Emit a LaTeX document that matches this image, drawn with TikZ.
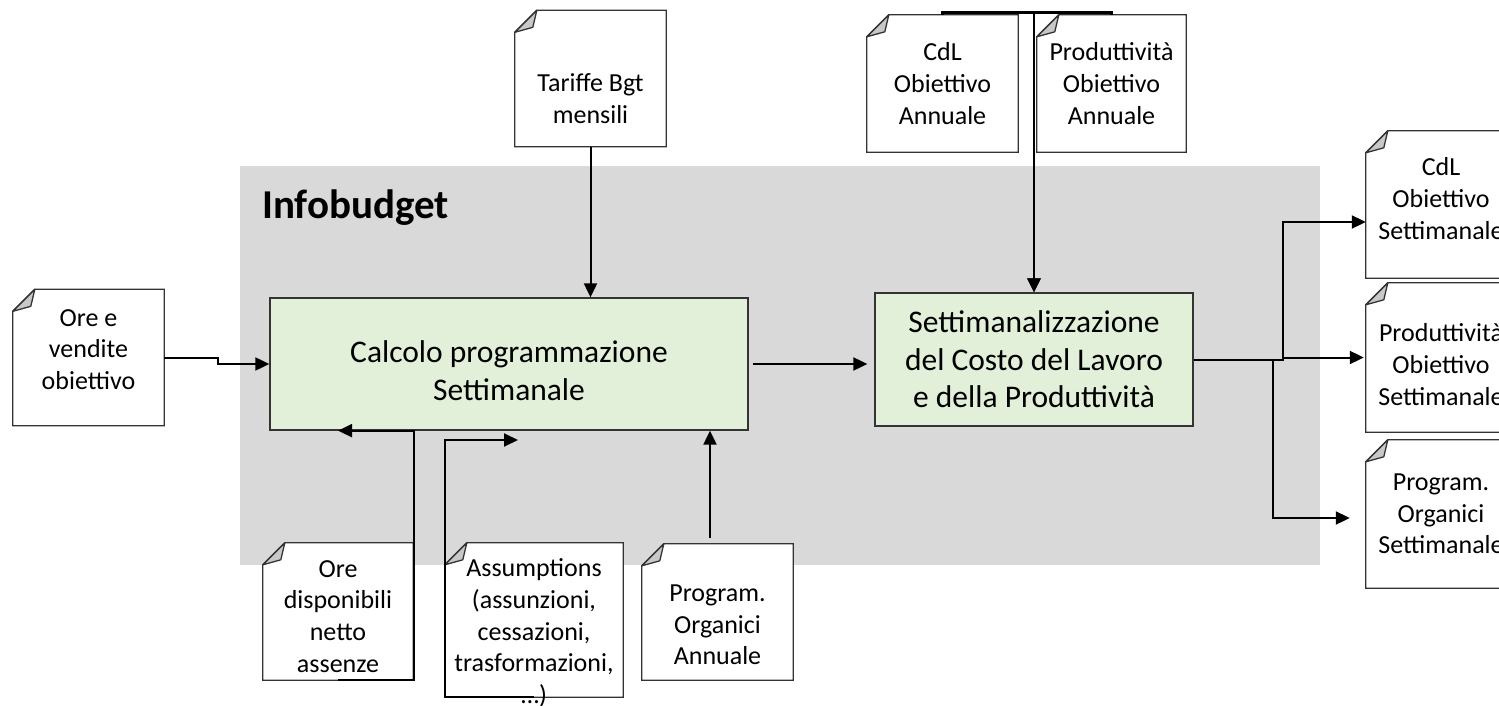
\documentclass[tikz,border=0pt]{standalone}
\usepackage{fontspec}
\setmainfont{Carlito}
\usepackage{tikz}
\usetikzlibrary{arrows.meta,backgrounds}

\newcommand\docfont{\fontsize{26}{31.7}\selectfont}
\newcommand\boxfont{\fontsize{31.5}{37.5}\selectfont}
\newcommand\titlefont{\fontsize{41}{49}\selectfont\bfseries}

\definecolor{infogray}{HTML}{D9D9D9}
\definecolor{procgreen}{HTML}{E2EFD9}
\definecolor{foldgray}{HTML}{C8C8C8}
\definecolor{edgegray}{HTML}{333333}

\tikzset{
	docnode/.style={minimum width=151, minimum height=136, inner sep=0},
	doctext/.style={align=center, font=\docfont, inner sep=0},
	docedge/.style={draw=edgegray, line width=1.3},
	procbox/.style={draw=edgegray, line width=1.3, fill=procgreen, align=center, font=\boxfont, inner sep=0},
	conn/.style={line width=2, -{Triangle[length=14pt,width=13pt]}},
}

\begin{document}
\begin{tikzpicture}[x=1pt, y=-1pt]

\useasboundingbox (0, 0) rectangle (1499, 706);

% Ore e vendite obiettivo
\node [docnode,
	label={[doctext, yshift=8]center:{Ore e\\vendite\\obiettivo}}
] (ore_vendite) at (88.5, 357.5) {};

% Tariffe Bgt mensili
\node [docnode,
	label={[doctext, yshift=-20]center:{Tariffe Bgt\\mensili}}
] (tariffe) at (590.5, 78.5) {};

% CdL obiettivo annuale
\node [docnode,
	minimum height=137,
	label={[doctext]center:{CdL\\Obiettivo\\Annuale}}
] (cdl_annuale) at (942.5, 83.5) {};

% Produttivita obiettivo annuale
\node [docnode,
	minimum width=149,
	minimum height=137,
	label={[doctext]center:{Produttività\\Obiettivo\\Annuale}}
] (prod_annuale) at (1111.5, 83.5) {};

% Ore disponibili
\node [docnode,
	minimum width=150,
	minimum height=137,
	label={[doctext, yshift=-5]center:{Ore\\disponibili\\netto\\assenze}}
] (ore_disp) at (338, 611.5) {};

% Assumptions
\node [docnode,
	minimum width=178,
	minimum height=154,
	label={[doctext, yshift=-13]center:{Assumptions\\(assunzioni,\\cessazioni,\\trasformazioni,\\…)}}
] (assumptions) at (534, 620) {};

% Program. organici annuale
\node [docnode,
	label={[doctext, yshift=-13]center:{Program.\\Organici\\Annuale}}
] (prog_annuale) at (717.5, 612) {};

% CdL obiettivo settimanale
\node [docnode,
	minimum width=150,
	minimum height=147,
	label={[doctext, yshift=6]center:{CdL\\Obiettivo\\Settimanale}}
] (cdl_sett) at (1441, 204.5) {};

% Produttivita obiettivo settimanale
\node [docnode,
	minimum width=150,
	minimum height=149,
	label={[doctext, yshift=-7]center:{Produttività\\Obiettivo\\Settimanale}}
] (prod_sett) at (1441, 357.5) {};

% Program. organici settimanale
\node [docnode,
	minimum width=150,
	minimum height=148,
	label={[doctext]center:{Program.\\Organici\\Settimanale}}
] (prog_sett) at (1441, 514) {};

% Calcolo programmazione
\node [procbox,
	minimum width=478,
	minimum height=132
] (calcolo) at (509, 364) {\rule{0pt}{35pt}Calcolo programmazione\\Settimanale};

% Settimanalizzazione
\node [procbox,
	minimum width=318,
	minimum height=133
] (settim) at (1034, 359.5) {Settimanalizzazione\\del Costo del Lavoro\\e della Produttività};

% Infobudget title
\node [anchor=base west, font=\titlefont, inner sep=0] (infobudget_title) at (262, 218) {Infobudget};

% Area and document outlines
\begin{scope}[on background layer]
\node [fill=infogray, minimum width=1080, minimum height=399, inner sep=0] (infobudget) at (780, 365.5) {};
\foreach \docname in {ore_vendite, tariffe, cdl_annuale, prod_annuale, ore_disp,
	assumptions, prog_annuale, cdl_sett, prod_sett, prog_sett} {
	\draw [docedge, fill=white] ([xshift=22]\docname.north west) -- (\docname.north east)
		-- (\docname.south east) -- (\docname.south west) -- ([yshift=-22]\docname.north west) -- cycle;
	\draw [docedge, fill=foldgray, line join=round] ([yshift=-22]\docname.north west)
		-- ([xshift=22]\docname.north west) -- ([xshift=18,yshift=-17]\docname.north west) -- cycle;
}
\end{scope}

% Arrows
\draw[conn] (ore_vendite.east) -- ++(54, 0) |- (calcolo.west);
\draw[conn] (tariffe.south) -- (tariffe.south |- calcolo.north);
\draw[conn, shorten <=4pt, shorten >=7pt] (calcolo.east) -- (calcolo.east -| settim.west);

\draw[conn, line width=2.6] (cdl_annuale.north) -- ++(0, -2) -| (settim.north);
\draw[conn, line width=2.6] (prod_annuale.north) -- ++(0, -2) -| (settim.north);

\draw[conn] (ore_disp.south) -- ++(76, 0) |- (ore_disp.south |- calcolo.south);
\coordinate (assump_tip) at (518, 440);
\draw[conn] (assumptions.south) -- (assumptions.south west) |- (assump_tip);
\draw[conn] ([xshift=-7.5, yshift=6]prog_annuale.north) -- ([xshift=-7.5]prog_annuale.north |- calcolo.south);

\coordinate (split_upper) at ([xshift=89]settim.east);
\coordinate (split_lower) at ([xshift=79]settim.east);
\draw[conn] (settim.east) -- (split_upper) |- ([yshift=-17.5]cdl_sett.west);
\draw[conn, shorten >=2pt] (split_upper) |- (prod_sett.west);
\draw[conn, shorten >=16pt] (split_lower) |- ([yshift=-4]prog_sett.west);

\end{tikzpicture}
\end{document}
